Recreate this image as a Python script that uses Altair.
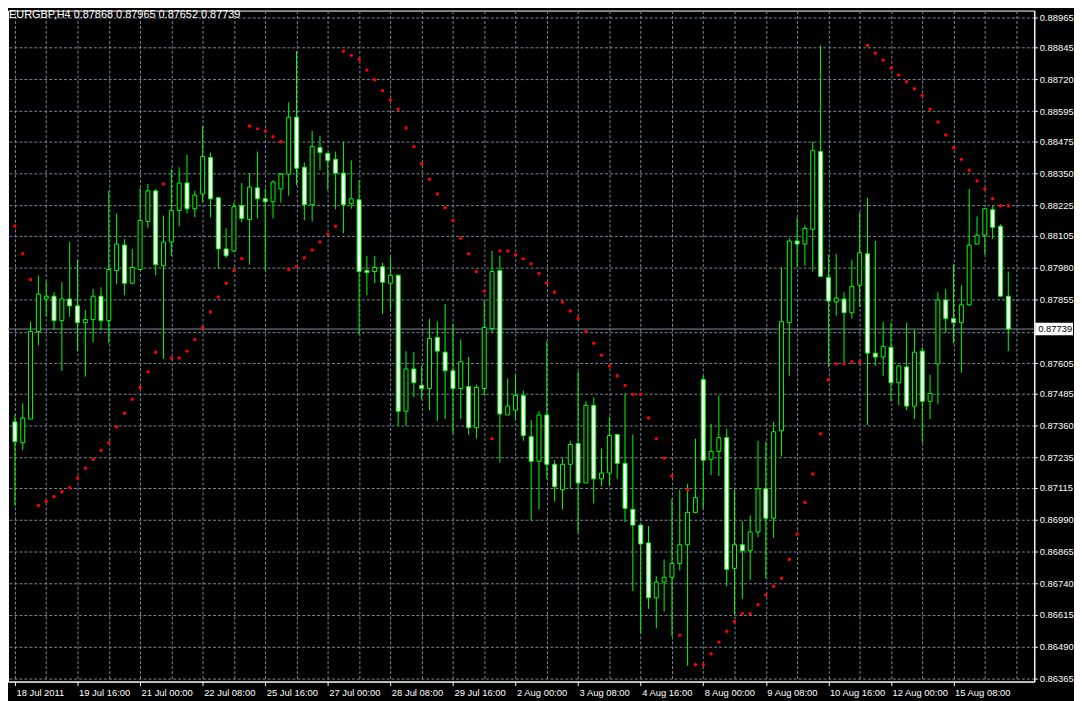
import altair as alt
import pandas as pd

symbol = "EURGBP,H4"

opens = [0.87374, 0.87292, 0.87385, 0.87729, 0.87857, 0.87868, 0.87772, 0.87857,
         0.87830, 0.87764, 0.87776, 0.87868, 0.87772, 0.87969, 0.88069, 0.87919,
         0.87973, 0.88162, 0.88282, 0.87988, 0.88081, 0.88205, 0.88313, 0.88212,
         0.88270, 0.88413, 0.88255, 0.88054, 0.88046, 0.88224, 0.88170, 0.88294,
         0.88251, 0.88239, 0.88290, 0.88348, 0.88572, 0.88375, 0.88228, 0.88452,
         0.88429, 0.88406, 0.88352, 0.88232, 0.88247, 0.87969, 0.87965, 0.87984,
         0.87919, 0.87950, 0.87416, 0.87582, 0.87517, 0.87505, 0.87706, 0.87648,
         0.87575, 0.87505, 0.87513, 0.87351, 0.87505, 0.87741, 0.87969, 0.87401,
         0.87420, 0.87478, 0.87316, 0.87219, 0.87401, 0.87207, 0.87107, 0.87207,
         0.87289, 0.87134, 0.87439, 0.87150, 0.87173, 0.87324, 0.87211, 0.87030,
         0.86968, 0.86898, 0.86682, 0.86744, 0.86763, 0.86817, 0.86891, 0.87018,
         0.87540, 0.87227, 0.87258, 0.87312, 0.86798, 0.86891, 0.86867, 0.86941,
         0.87111, 0.86995, 0.87339, 0.87764, 0.88085, 0.88073, 0.88131, 0.88437,
         0.87942, 0.87845, 0.87857, 0.87803, 0.87911, 0.88035, 0.87644, 0.87629,
         0.87667, 0.87528, 0.87590, 0.87436, 0.87652, 0.87455, 0.87602, 0.87853,
         0.87780, 0.87764, 0.87834, 0.88073, 0.88108, 0.88208, 0.88143, 0.87868]

highs = [0.87401, 0.87447, 0.87768, 0.87950, 0.87926, 0.87884, 0.87923, 0.88081,
         0.88011, 0.87814, 0.87896, 0.87903, 0.88282, 0.88193, 0.88093, 0.88054,
         0.88294, 0.88309, 0.88290, 0.88185, 0.88367, 0.88375, 0.88425, 0.88282,
         0.88537, 0.88433, 0.88259, 0.88135, 0.88236, 0.88313, 0.88352, 0.88437,
         0.88290, 0.88324, 0.88352, 0.88630, 0.88831, 0.88394, 0.88518, 0.88498,
         0.88433, 0.88437, 0.88475, 0.88402, 0.88324, 0.88027, 0.88027, 0.87999,
         0.88023, 0.87954, 0.87652, 0.87648, 0.87594, 0.87780, 0.87768, 0.87838,
         0.87760, 0.87698, 0.87629, 0.87521, 0.87849, 0.88046, 0.88027, 0.87544,
         0.87559, 0.87497, 0.87381, 0.87416, 0.87691, 0.87223, 0.87231, 0.87300,
         0.87571, 0.87455, 0.87470, 0.87269, 0.87393, 0.87327, 0.87486, 0.87324,
         0.86972, 0.86964, 0.86767, 0.86833, 0.87072, 0.87107, 0.87130, 0.87308,
         0.87555, 0.87366, 0.87478, 0.87347, 0.87107, 0.86983, 0.87006, 0.87300,
         0.87296, 0.87374, 0.87981, 0.88096, 0.88178, 0.88147, 0.88475, 0.88854,
         0.88031, 0.88035, 0.87884, 0.88011, 0.88197, 0.88255, 0.88085, 0.87768,
         0.87764, 0.87598, 0.87764, 0.87737, 0.87667, 0.87559, 0.87884, 0.87896,
         0.87992, 0.87911, 0.88290, 0.88182, 0.88212, 0.88224, 0.88151, 0.87965]

lows = [0.87045, 0.87262, 0.87385, 0.87675, 0.87787, 0.87737, 0.87575, 0.87787,
        0.87652, 0.87552, 0.87687, 0.87733, 0.87683, 0.87915, 0.87872, 0.87915,
        0.87973, 0.88135, 0.87950, 0.87621, 0.88027, 0.88143, 0.88193, 0.88178,
        0.88236, 0.88178, 0.87977, 0.88019, 0.88042, 0.88158, 0.87992, 0.88174,
        0.87969, 0.88174, 0.88236, 0.88263, 0.88305, 0.88166, 0.88162, 0.88363,
        0.88286, 0.88209, 0.88116, 0.88212, 0.87718, 0.87872, 0.87919, 0.87799,
        0.87814, 0.87358, 0.87358, 0.87470, 0.87463, 0.87420, 0.87378, 0.87385,
        0.87327, 0.87385, 0.87324, 0.87308, 0.87478, 0.87725, 0.87215, 0.87401,
        0.87381, 0.87300, 0.86987, 0.87030, 0.87150, 0.87061, 0.87030, 0.87111,
        0.86937, 0.87134, 0.87053, 0.87122, 0.87122, 0.87150, 0.86980, 0.86709,
        0.86543, 0.86639, 0.86562, 0.86628, 0.86531, 0.86790, 0.86415, 0.87014,
        0.87034, 0.87165, 0.87161, 0.86728, 0.86616, 0.86678, 0.86751, 0.86921,
        0.86759, 0.86918, 0.87238, 0.87555, 0.87981, 0.87988, 0.87965, 0.87946,
        0.87590, 0.87791, 0.87606, 0.87780, 0.87826, 0.87362, 0.87594, 0.87555,
        0.87455, 0.87439, 0.87420, 0.87385, 0.87292, 0.87385, 0.87443, 0.87725,
        0.87683, 0.87567, 0.87830, 0.88073, 0.88031, 0.88093, 0.87868, 0.87652]

closes = [0.87296, 0.87389, 0.87729, 0.87876, 0.87868, 0.87772, 0.87857, 0.87830,
          0.87764, 0.87776, 0.87868, 0.87772, 0.87973, 0.88073, 0.87919, 0.87981,
          0.88166, 0.88282, 0.87992, 0.88081, 0.88205, 0.88313, 0.88212, 0.88266,
          0.88417, 0.88251, 0.88054, 0.88027, 0.88220, 0.88174, 0.88297, 0.88251,
          0.88239, 0.88317, 0.88348, 0.88572, 0.88371, 0.88228, 0.88456, 0.88433,
          0.88402, 0.88352, 0.88228, 0.88251, 0.87965, 0.87961, 0.87981, 0.87923,
          0.87950, 0.87416, 0.87582, 0.87528, 0.87505, 0.87702, 0.87652, 0.87575,
          0.87505, 0.87610, 0.87351, 0.87509, 0.87745, 0.87965, 0.87405, 0.87436,
          0.87478, 0.87320, 0.87219, 0.87401, 0.87207, 0.87119, 0.87207, 0.87285,
          0.87134, 0.87439, 0.87150, 0.87173, 0.87320, 0.87211, 0.87034, 0.86968,
          0.86894, 0.86682, 0.86744, 0.86763, 0.86817, 0.86891, 0.87018, 0.87076,
          0.87223, 0.87258, 0.87312, 0.86794, 0.86891, 0.86867, 0.86941, 0.87111,
          0.86995, 0.87335, 0.87768, 0.88085, 0.88073, 0.88135, 0.88440, 0.87946,
          0.87849, 0.87861, 0.87803, 0.87907, 0.88039, 0.87644, 0.87629, 0.87671,
          0.87528, 0.87594, 0.87436, 0.87648, 0.87455, 0.87486, 0.87853, 0.87780,
          0.87764, 0.87834, 0.88069, 0.88108, 0.88212, 0.88139, 0.87868, 0.87739]

sar = [0.88143, 0.88035, 0.87934, 0.87045, 0.87061, 0.87080, 0.87099, 0.87115,
       0.87153, 0.87192, 0.87227, 0.87262, 0.87292, 0.87354, 0.87408, 0.87463,
       0.87509, 0.87571, 0.87648, 0.88309, 0.87625, 0.87625, 0.87652, 0.87698,
       0.87745, 0.87807, 0.87865, 0.87919, 0.87969, 0.88015, 0.88537, 0.88526,
       0.88518, 0.88495, 0.88475, 0.87973, 0.87984, 0.88019, 0.88050, 0.88081,
       0.88112, 0.88143, 0.88831, 0.88815, 0.88800, 0.88757, 0.88719, 0.88676,
       0.88640, 0.88603, 0.88529, 0.88456, 0.88390, 0.88328, 0.88270, 0.88216,
       0.88166, 0.88096, 0.88035, 0.87965, 0.87888, 0.87308, 0.88046, 0.88046,
       0.88031, 0.88015, 0.87996, 0.87957, 0.87919, 0.87884, 0.87845, 0.87810,
       0.87780, 0.87729, 0.87683, 0.87636, 0.87594, 0.87555, 0.87517, 0.87482,
       0.87482, 0.87389, 0.87308, 0.87231, 0.87161, 0.86535, 0.87107, 0.86419,
       0.86419, 0.86462, 0.86508, 0.86551, 0.86589, 0.86620, 0.86620, 0.86655,
       0.86693, 0.86728, 0.86759, 0.86833, 0.86933, 0.87057, 0.87169, 0.87327,
       0.87540, 0.87602, 0.87602, 0.87610, 0.87610, 0.88854, 0.88823, 0.88796,
       0.88765, 0.88738, 0.88711, 0.88684, 0.88657, 0.88603, 0.88553, 0.88502,
       0.88452, 0.88406, 0.88363, 0.88321, 0.88290, 0.88251, 0.88224, 0.88224]

date_labels = ["18 Jul 2011", "19 Jul 16:00", "21 Jul 00:00", "22 Jul 08:00",
               "25 Jul 16:00", "27 Jul 00:00", "28 Jul 08:00", "29 Jul 16:00",
               "2 Aug 00:00", "3 Aug 08:00", "4 Aug 16:00", "8 Aug 00:00",
               "9 Aug 08:00", "10 Aug 16:00", "12 Aug 00:00", "15 Aug 08:00"]

price_ticks = [0.88965, 0.88845, 0.88720, 0.88595, 0.88475, 0.88350, 0.88225,
               0.88105, 0.87980, 0.87855, 0.87727, 0.87605, 0.87485, 0.87360,
               0.87235, 0.87115, 0.86990, 0.86865, 0.86740, 0.86615, 0.86490,
               0.86365]
hidden_tick = 0.87727

# ---------------------------------------------------------------
n = len(opens)
df = pd.DataFrame({"i": list(range(n)), "open": opens, "high": highs,
                   "low": lows, "close": closes, "sar": sar})
df["body_top"] = df[["open", "close"]].max(axis=1)
df["body_bot"] = df[["open", "close"]].min(axis=1)
df["fill"] = ["black" if c > o else "white" for o, c in zip(opens, closes)]

W, H = 1034, 676
GRID = "#778899"
GREEN = "#00ff00"
FONT = "Liberation Sans"
FS = 9.5

x_scale = alt.Scale(domain=[-0.25, 129.69], nice=False, zero=False)
y_scale = alt.Scale(domain=[0.86353, 0.88991], nice=False, zero=False)

js_labels = "[" + ",".join("'" + s + "'" for s in date_labels) + "]"
lab_test = "datum.value % 8 == 0 && datum.value < 128"
x_axis = alt.Axis(
    values=list(range(0, 129, 4)), grid=True, gridColor=GRID, gridDash=[3, 2],
    gridWidth=1, labelExpr=f"({lab_test}) ? {js_labels}[datum.value / 8] : ''",
    labelAlign="left", labelOffset=1, labelBaseline="top", labelPadding=2,
    labelColor="white", labelFont=FONT, labelFontSize=FS, labelOverlap=False,
    labelFlush=False, labelBound=False, tickColor="white", tickSize=4,
    tickOpacity={"condition": {"test": lab_test, "value": 1}, "value": 0},
    domainColor="white", title=None)
y_axis = alt.Axis(
    orient="right", values=price_ticks, grid=True, gridColor=GRID,
    gridDash=[3, 2], gridWidth=1,
    labelExpr=f"abs(datum.value - {hidden_tick}) < 0.000001 ? '' : format(datum.value, '.5f')",
    labelColor="white", labelFont=FONT, labelFontSize=FS, labelPadding=2,
    labelOverlap=False, labelFlush=False, tickSize=3, tickColor="white",
    domainColor="white", title=None)


def X(f):
    return alt.X(f"{f}:Q", scale=x_scale, axis=x_axis)


def Y(f):
    return alt.Y(f"{f}:Q", scale=y_scale, axis=y_axis)


base = alt.Chart(df)

wicks = base.mark_rule(color=GREEN, strokeWidth=1, clip=True).encode(
    x=X("i"), y=Y("low"), y2="high")

bodies = base.mark_bar(size=4, stroke=GREEN, strokeWidth=1, clip=True).encode(
    x=X("i"), y=Y("body_bot"), y2="body_top",
    color=alt.Color("fill:N", scale=None))

dots = base.mark_point(filled=True, size=12, color="#ff0000", shape="circle",
                       opacity=1, clip=True).encode(x=X("i"), y=Y("sar"))

last = pd.DataFrame({"price": [closes[-1]], "label": [f"{closes[-1]:.5f}"]})
price_line = alt.Chart(last).mark_rule(color=GRID, strokeWidth=1).encode(y=Y("price"))
price_box = alt.Chart(last).mark_point(
    shape="M-1,-0.33L1,-0.33L1,0.33L-1,0.33Z", size=1444, filled=True,
    color="white", opacity=1).encode(x=alt.value(W + 20), y=Y("price"))
price_text = alt.Chart(last).mark_text(
    align="left", baseline="middle", color="black", font=FONT,
    fontSize=FS).encode(x=alt.value(W + 4), y=Y("price"), text="label:N")

head = pd.DataFrame({"t": [f"{symbol}  {opens[-1]:.5f} {highs[-1]:.5f} {lows[-1]:.5f} {closes[-1]:.5f}"]})
title = alt.Chart(head).mark_text(
    align="left", baseline="middle", color="white", font=FONT,
    fontSize=11).encode(x=alt.value(1), y=alt.value(4), text="t:N")

chart = alt.layer(price_line, wicks, bodies, dots, price_box, price_text, title).properties(
    width=W, height=H,
    padding={"left": 0, "top": 0, "right": 40, "bottom": 17},
    autosize=alt.AutoSizeParams(type="none"),
).configure(background="black").configure_view(stroke="white", strokeWidth=1, fill="black")

chart.save("out.html", embed_options={"renderer": "svg", "actions": False})
